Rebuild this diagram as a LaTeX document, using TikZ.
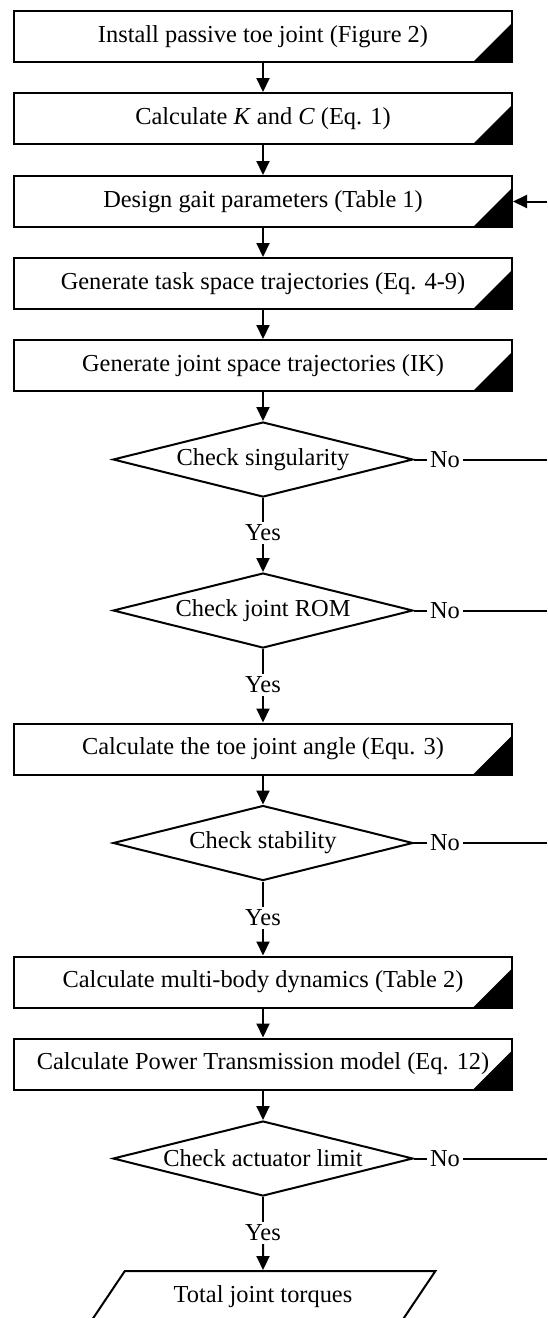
\documentclass[tikz,border=0pt]{standalone}
\usepackage{fontspec}
\setmainfont{Liberation Serif}
\usetikzlibrary{arrows.meta,shapes.geometric}

\begin{document}
\begin{tikzpicture}[x=0.5pt,y=-0.5pt,line width=1pt,
  >={Triangle[length=7pt,width=6.5pt]},
  every node/.style={font=\fontsize{12.2}{14}\selectfont},
  proc/.style={draw,rectangle,minimum width=249pt,minimum height=25.5pt,inner sep=0pt,
    path picture={\fill (path picture bounding box.south east) -- ++(-19.5pt,0pt) -- ++(19.5pt,19.5pt) -- cycle;}},
  check/.style={draw,diamond,aspect=4,minimum width=150pt,minimum height=37.5pt,inner sep=0pt},
  result/.style={draw,trapezium,trapezium left angle=45,trapezium right angle=135,
    trapezium stretches=true,minimum width=172.5pt,minimum height=25.5pt,inner sep=0pt},
  tag/.style={inner sep=1pt}]

  \useasboundingbox (0,0) rectangle (547,1318);

  % process boxes
  \node[proc] (b1) at (263,36.5) {Install passive toe joint (Figure 2)};
  \node[proc] (b2) at (263,118.5) {Calculate \textit{K} and \textit{C} (Eq. 1)};
  \node[proc] (b3) at (263,201.5) {Design gait parameters (Table 1)};
  \node[proc] (b4) at (263,283.5) {Generate task space trajectories (Eq. 4-9)};
  \node[proc] (b5) at (263,365.5) {Generate joint space trajectories (IK)};
  \node[check] (d1) at (263,459.5) {Check singularity};
  \node[check] (d2) at (263,610.5) {Check joint ROM};
  \node[proc] (b6) at (263,749) {Calculate the toe joint angle (Equ. 3)};
  \node[check] (d3) at (263,843) {Check stability};
  \node[proc] (b7) at (263,982) {Calculate multi-body dynamics (Table 2)};
  \node[proc] (b8) at (263,1064) {Calculate Power Transmission model (Eq. 12)};
  \node[check] (d4) at (263,1158.5) {Check actuator limit};
  \node[result] (out) at (263,1296.5) {Total joint torques};

  % yes / no labels
  \node[tag] (y1) at (263,533) {Yes};
  \node[tag] (y2) at (263,685) {Yes};
  \node[tag] (y3) at (263,918) {Yes};
  \node[tag] (y4) at (263,1233) {Yes};
  \node[tag] (n1) at (445,459.5) {No};
  \node[tag] (n2) at (445,610.5) {No};
  \node[tag] (n3) at (445,843) {No};
  \node[tag] (n4) at (445,1158.5) {No};

  % return line ends
  \coordinate (r0) at (547,201.5);
  \coordinate (r1) at (547,459.5);
  \coordinate (r2) at (547,610.5);
  \coordinate (r3) at (547,843);
  \coordinate (r4) at (547,1158.5);

  \draw[->] (b1) -- (b2);
  \draw[->] (b2) -- (b3);
  \draw[->] (b3) -- (b4);
  \draw[->] (b4) -- (b5);
  \draw[->] (b5) -- (d1);
  \draw (d1) -- (y1);
  \draw[->] (y1) -- (d2);
  \draw (d2) -- (y2);
  \draw[->] (y2) -- (b6);
  \draw[->] (b6) -- (d3);
  \draw (d3) -- (y3);
  \draw[->] (y3) -- (b7);
  \draw[->] (b7) -- (b8);
  \draw[->] (b8) -- (d4);
  \draw (d4) -- (y4);
  \draw[->] (y4) -- (out);

  \draw (d1) -- (n1) (n1) -- (r1);
  \draw (d2) -- (n2) (n2) -- (r2);
  \draw (d3) -- (n3) (n3) -- (r3);
  \draw (d4) -- (n4) (n4) -- (r4);
  \draw[->] (r0) -- (b3.east);

\end{tikzpicture}
\end{document}
